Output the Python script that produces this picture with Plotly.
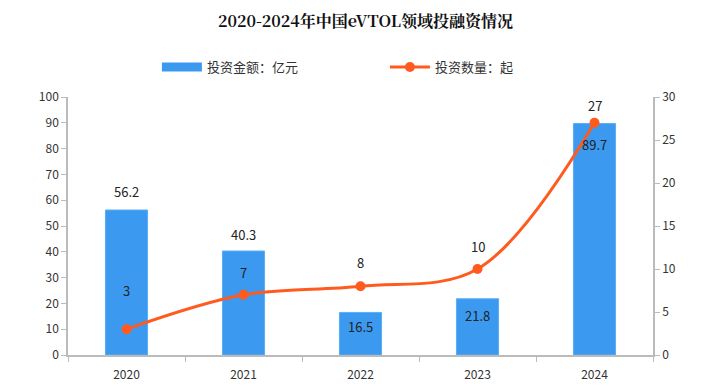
import plotly.graph_objects as go

years = ["2020", "2021", "2022", "2023", "2024"]
amount = [56.2, 40.3, 16.5, 21.8, 89.7]
count = [3, 7, 8, 10, 27]

font_family = "Noto Sans CJK SC, DejaVu Sans, sans-serif"
BLUE = "#3B9AF0"
ORANGE = "#FF5B1F"

# label placement styles (pixel offsets from the mark)
bar_label_shift = [19, 17, -14, -17, -21]
line_label_shift = [39, 22, 24, 23, 17]

fig = go.Figure()
fig.add_trace(go.Bar(
    x=years, y=amount, name="投资金额：亿元", showlegend=False,
    marker=dict(color=BLUE, line=dict(color="#5AAEF5", width=1)),
    width=0.36, yaxis="y",
))
# legend stand-in for the bar series (wide block)
fig.add_trace(go.Scatter(
    x=[years[0]], y=[None], mode="lines", name="投资金额：亿元",
    line=dict(color=BLUE, width=9), yaxis="y", hoverinfo="skip",
))
fig.add_trace(go.Scatter(
    x=years, y=count, name="投资数量：起", mode="lines+markers",
    line=dict(color=ORANGE, width=3, shape="spline", smoothing=1.0),
    marker=dict(color=ORANGE, size=10),
    cliponaxis=False, yaxis="y2",
))

annotations = []
# category index positions on the x axis
for i, (v, s) in enumerate(zip(amount, bar_label_shift)):
    annotations.append(dict(x=i, y=v, xref="x", yref="y", text=f"{v}", showarrow=False,
                            yshift=s, font=dict(size=13, color="#222222", family=font_family)))
for i, (v, s) in enumerate(zip(count, line_label_shift)):
    annotations.append(dict(x=i, y=v, xref="x", yref="y2", text=str(v), showarrow=False,
                            yshift=s, font=dict(size=13, color="#222222", family=font_family)))

fig.update_layout(
    width=715, height=382,
    margin=dict(l=60, r=70, t=89, b=35, autoexpand=False),
    paper_bgcolor="white", plot_bgcolor="white",
    font=dict(family=font_family, size=12, color="#333333"),
    title=dict(text="<b>2020-2024年中国eVTOL领域投融资情况</b>", x=0.5, xanchor="center",
               y=0.966, yanchor="middle",
               font=dict(size=16, color="#111111", family="Noto Serif CJK SC, Noto Sans CJK SC, serif")),
    showlegend=True,
    legend=dict(orientation="h", x=0.152, xanchor="left", y=1.116, yanchor="middle",
                font=dict(size=13, color="#333333"), itemwidth=40, bgcolor="rgba(0,0,0,0)",
                tracegroupgap=0, entrywidth=173),
    annotations=annotations,
    xaxis=dict(type="category", range=[-0.5, 4.5], showline=True, linecolor="#BBBBBB",
               linewidth=1.5, ticks="outside", tickson="boundaries", ticklen=5,
               tickcolor="#BBBBBB", showgrid=False, ticklabelstandoff=8,
               tickfont=dict(size=12, color="#333333")),
    yaxis=dict(range=[0, 100], dtick=10, showline=True, linecolor="#BBBBBB", linewidth=1.5,
               ticks="outside", ticklen=5, tickcolor="#BBBBBB", showgrid=False, zeroline=False,
               tickfont=dict(size=12, color="#333333")),
    yaxis2=dict(range=[0, 30], dtick=5, overlaying="y", side="right", showline=True,
                linecolor="#BBBBBB", linewidth=1.5, ticks="outside", ticklen=5, tickcolor="#BBBBBB",
                showgrid=False, zeroline=False, tickfont=dict(size=12, color="#333333")),
)

fig.write_html("out.html")
